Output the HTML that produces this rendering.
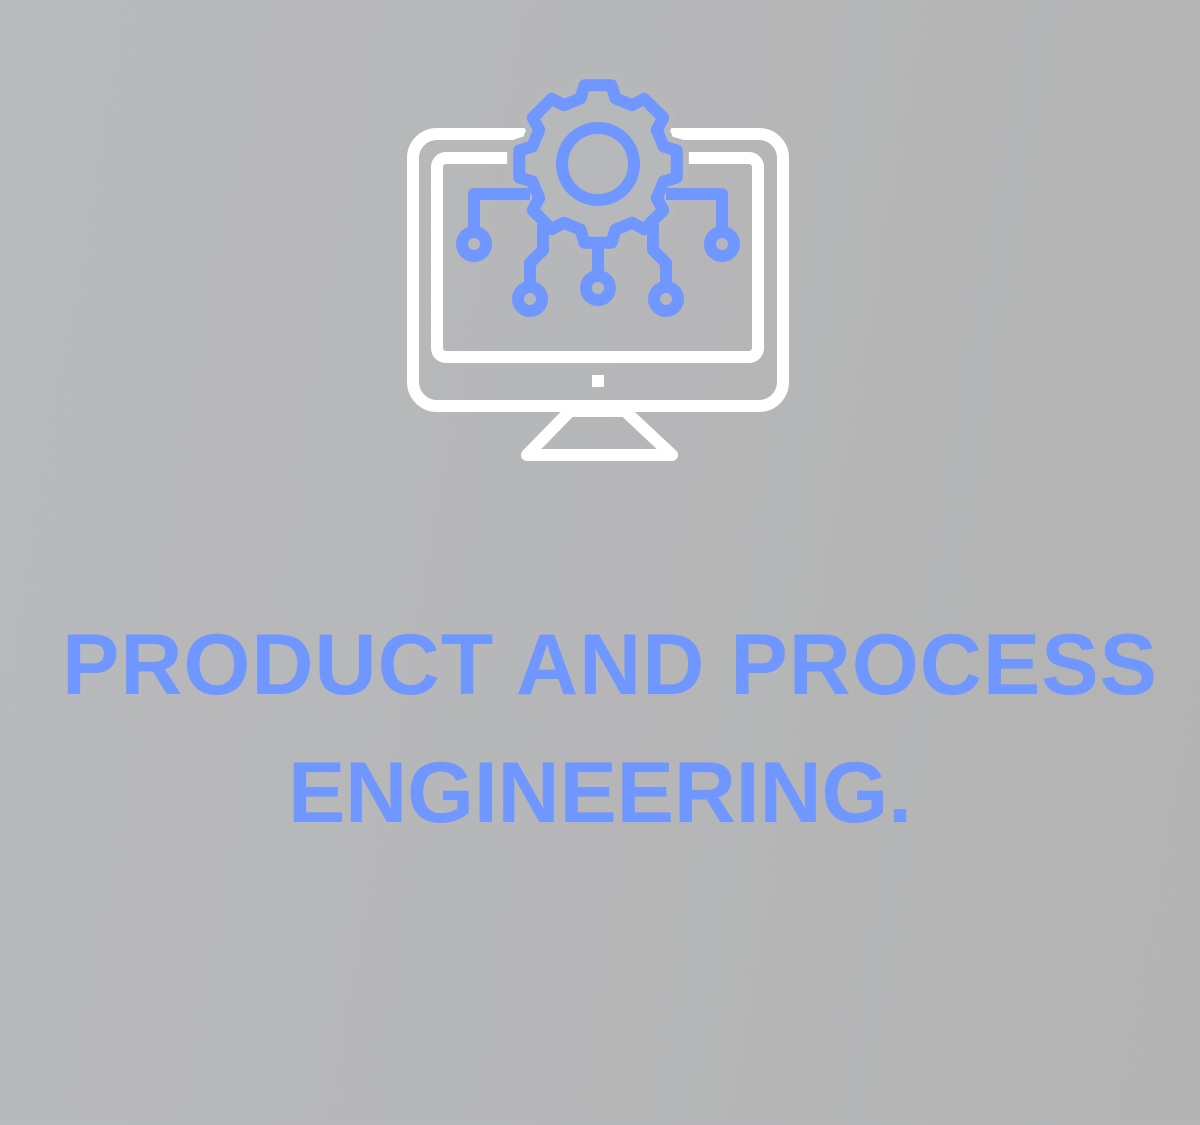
<!DOCTYPE html>
<html><head><meta charset="utf-8"><style>
html,body{margin:0;padding:0}
body{width:1200px;height:1120px;background:linear-gradient(100deg,#b9babd,#b3b3b3);overflow:hidden}
</style></head><body>
<svg width="1200" height="1120" viewBox="0 0 1200 1120" xmlns="http://www.w3.org/2000/svg">
<g fill="none" stroke="#fff" stroke-width="12" stroke-linejoin="round">
<rect x="413" y="134" width="370" height="272" rx="24"/>
<rect x="437" y="158" width="321" height="199" rx="9"/>
<polygon points="570,411 527,455 672,455 625,411"/>
</g>
<rect x="592" y="375" width="12" height="12" fill="#fff"/>
<g transform="translate(598,164)" stroke-linejoin="round">
<path d="M-17.5,-65.7 L-13.5,-78.8 L13.5,-78.8 L17.5,-65.7 L34.1,-58.8 L46.2,-65.3 L65.3,-46.2 L58.8,-34.1 L65.7,-17.5 L78.8,-13.5 L78.8,13.5 L65.7,17.5 L58.8,34.1 L65.3,46.2 L46.2,65.3 L34.1,58.8 L17.5,65.7 L13.5,78.8 L-13.5,78.8 L-17.5,65.7 L-34.1,58.8 L-46.2,65.3 L-65.3,46.2 L-58.8,34.1 L-65.7,17.5 L-78.8,13.5 L-78.8,-13.5 L-65.7,-17.5 L-58.8,-34.1 L-65.3,-46.2 L-46.2,-65.3 L-34.1,-58.8 Z" fill="#b7b8ba" stroke="#b7b8ba" stroke-width="24"/>
<path d="M-17.5,-65.7 L-13.5,-78.8 L13.5,-78.8 L17.5,-65.7 L34.1,-58.8 L46.2,-65.3 L65.3,-46.2 L58.8,-34.1 L65.7,-17.5 L78.8,-13.5 L78.8,13.5 L65.7,17.5 L58.8,34.1 L65.3,46.2 L46.2,65.3 L34.1,58.8 L17.5,65.7 L13.5,78.8 L-13.5,78.8 L-17.5,65.7 L-34.1,58.8 L-46.2,65.3 L-65.3,46.2 L-58.8,34.1 L-65.7,17.5 L-78.8,13.5 L-78.8,-13.5 L-65.7,-17.5 L-58.8,-34.1 L-65.3,-46.2 L-46.2,-65.3 L-34.1,-58.8 Z" fill="none" stroke="#7096ff" stroke-width="12"/>
</g>
<g fill="none" stroke="#7096ff" stroke-width="12" stroke-linejoin="round">
<circle cx="598" cy="164" r="36"/>
<polyline points="530,194 474,194 474,232"/>
<polyline points="666,194 722,194 722,232"/>
<polyline points="543,224 543,250 530,263 530,287"/>
<polyline points="598,242 598,276"/>
<polyline points="653,224 653,250 666,263 666,287"/>
<circle cx="474" cy="244" r="12"/>
<circle cx="722" cy="244" r="12"/>
<circle cx="530" cy="299" r="12"/>
<circle cx="598" cy="288" r="12"/>
<circle cx="666" cy="299" r="12"/>
</g>
<g fill="#7096ff" font-family="Liberation Sans, sans-serif" font-weight="bold" font-size="86">
<text x="62" y="694" textLength="1095" lengthAdjust="spacing">PRODUCT AND PROCESS</text>
<text x="288" y="822" textLength="624" lengthAdjust="spacing">ENGINEERING.</text>
</g>
</svg>
</body></html>
